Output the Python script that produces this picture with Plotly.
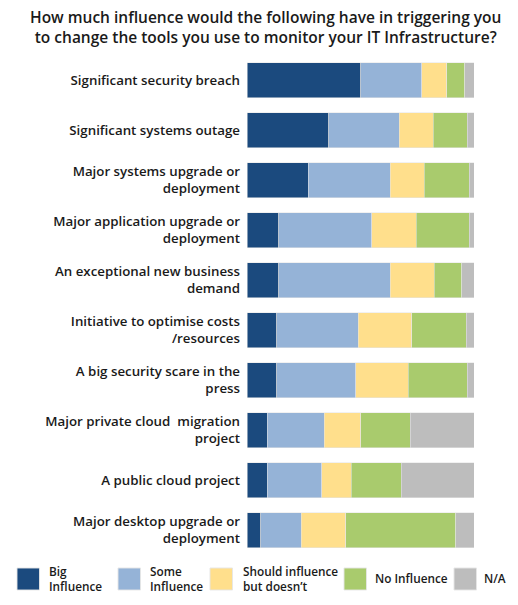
import plotly.graph_objects as go

categories = [
    "Significant security breach",
    "Significant systems outage",
    "Major systems upgrade or<br>deployment",
    "Major application upgrade or<br>deployment",
    "An exceptional new business<br>demand",
    "Initiative to optimise costs<br>/resources",
    "A big security scare in the<br>press",
    "Major private cloud  migration<br>project",
    "A public cloud project",
    "Major desktop upgrade or<br>deployment",
]
series_names = ["Big<br>Influence", "Some<br>Influence", "Should influence<br>but doesn’t", "No Influence", "N/A"]
big_influence = [50, 36, 27, 14, 14, 13, 13, 9, 9, 6]
some_influence = [27, 31, 36, 41, 49, 36, 35, 25, 24, 18]
should_influence = [11, 15, 15, 19.5, 19.5, 23.5, 23, 16, 13, 19.5]
no_influence = [8, 15, 20, 23.5, 12, 24, 26, 22, 22, 48.5]
na = [4, 3, 2, 2, 5.5, 3.5, 3, 28, 32, 8]
colors = ["#1B4A7E", "#95B3D7", "#FFDF8C", "#A9CB6D", "#BDBDBD"]

W, H = 518, 605
ML, MR, MT, MB = 247, 44, 55, 50
FONT = "Open Sans"

fig = go.Figure()
for name, vals, col in zip(series_names, [big_influence, some_influence, should_influence, no_influence, na], colors):
    fig.add_trace(go.Bar(
        y=categories, x=vals, name=name, orientation="h",
        marker=dict(color=col, line=dict(color="rgba(230,230,230,0.9)", width=0.6)),
        width=0.7, showlegend=False,
    ))

fig.update_layout(
    width=W, height=H, barmode="stack", barnorm="percent",
    margin=dict(l=ML, r=MR, t=MT, b=MB),
    plot_bgcolor="white", paper_bgcolor="white",
    font=dict(family=FONT, color="#1a1a1a"),
    xaxis=dict(visible=False, range=[0, 100], fixedrange=True),
    yaxis=dict(autorange="reversed", showline=False, showgrid=False, ticks="",
               tickfont=dict(size=13.3, family=FONT, weight=600, color="#1a1a1a"),
               ticklabelstandoff=6),
    showlegend=False,
)

fig.add_annotation(
    text="How much influence would the following have in triggering you<br>to change the tools you use to monitor your IT Infrastructure?",
    xref="paper", yref="paper", x=(265 - ML) / (W - ML - MR), y=1 + (MT - 27) / (H - MT - MB),
    xanchor="center", yanchor="middle", showarrow=False, align="center",
    font=dict(size=15.5, family=FONT, weight=600, color="#1a1a1a"),
)

pw = W - ML - MR
ph = H - MT - MB
def px_x(p):
    return (p - ML) / pw
def px_y(p):
    return 1 - (p - MT) / ph

sq_x = [17, 118, 210, 344, 454]
txt_x = [47, 148, 241, 373, 482]
for i, (name, col) in enumerate(zip(series_names, colors)):
    fig.add_shape(type="rect", xref="paper", yref="paper",
                  x0=px_x(sq_x[i]), x1=px_x(sq_x[i] + 22.5),
                  y0=px_y(590), y1=px_y(568),
                  fillcolor=col, line=dict(color="rgba(230,230,230,0.9)", width=1))
    fig.add_annotation(text=name, xref="paper", yref="paper",
                       x=px_x(txt_x[i]), y=px_y(578), xanchor="left", yanchor="middle",
                       showarrow=False, align="left",
                       font=dict(size=11.8, family=FONT, weight=600, color="#1a1a1a"))

fig.write_html("out.html", config={"displayModeBar": False},
               post_script="document.body.style.margin='0';")
